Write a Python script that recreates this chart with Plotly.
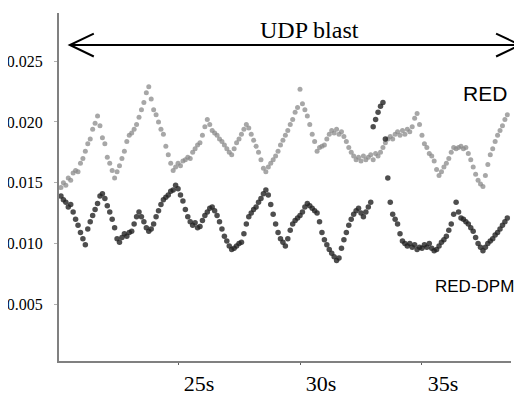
import plotly.graph_objects as go

# ---- data (seconds, queueing delay in s) ----
t_start = 20.2
t_step = 0.1

red = [
    0.0146, 0.0150, 0.0148, 0.0154, 0.0152, 0.0158, 0.0160, 0.0159, 0.0166, 0.0170,
    0.0176, 0.0182, 0.0186, 0.0194, 0.0199, 0.0205, 0.0197, 0.0187, 0.0182, 0.0171,
    0.0166, 0.0160, 0.0154, 0.0159, 0.0164, 0.0170, 0.0176, 0.0184, 0.0189, 0.0191,
    0.0194, 0.0198, 0.0204, 0.0210, 0.0216, 0.0224, 0.0229, 0.0219, 0.0210, 0.0206,
    0.0200, 0.0194, 0.0190, 0.0180, 0.0173, 0.0166, 0.0160, 0.0163, 0.0166, 0.0164,
    0.0168, 0.0169, 0.0171, 0.0170, 0.0175, 0.0178, 0.0181, 0.0183, 0.0189, 0.0196,
    0.0202, 0.0198, 0.0193, 0.0191, 0.0189, 0.0186, 0.0184, 0.0181, 0.0178, 0.0175,
    0.0173, 0.0178, 0.0183, 0.0186, 0.0190, 0.0194, 0.0198, 0.0195, 0.0190, 0.0185,
    0.0180, 0.0175, 0.0169, 0.0162, 0.0159, 0.0163, 0.0166, 0.0169, 0.0172, 0.0176,
    0.0181, 0.0185, 0.0189, 0.0193, 0.0198, 0.0202, 0.0208, 0.0212, 0.0227, 0.0215,
    0.0210, 0.0205, 0.0198, 0.0190, 0.0184, 0.0176, 0.0179, 0.0180, 0.0181, 0.0186,
    0.0190, 0.0193, 0.0191, 0.0194, 0.0190, 0.0192, 0.0188, 0.0184, 0.0179, 0.0175,
    0.0172, 0.0169, 0.0171, 0.0168, 0.0172, 0.0169, 0.0171, 0.0173, 0.0169, 0.0174,
    0.0172, 0.0175, 0.0179, 0.0183, 0.0186, 0.0188, 0.0186, 0.0190, 0.0192, 0.0189,
    0.0193, 0.0190, 0.0194, 0.0192, 0.0196, 0.0203, 0.0207, 0.0198, 0.0189, 0.0182,
    0.0179, 0.0174, 0.0172, 0.0168, 0.0161, 0.0156, 0.0159, 0.0163, 0.0166, 0.0170,
    0.0175, 0.0179, 0.0178, 0.0179, 0.0180, 0.0178, 0.0179, 0.0174, 0.0169, 0.0163,
    0.0157, 0.0152, 0.0149, 0.0147, 0.0156, 0.0165, 0.0173, 0.0178, 0.0184, 0.0189,
    0.0193, 0.0197, 0.0202, 0.0206,
]

red_dpm = [
    0.0139, 0.0136, 0.0134, 0.0130, 0.0132, 0.0126, 0.0120, 0.0115, 0.0109, 0.0104,
    0.0099, 0.0112, 0.0118, 0.0123, 0.0128, 0.0133, 0.0139, 0.0141, 0.0137, 0.0131,
    0.0126, 0.0120, 0.0113, 0.0104, 0.0101, 0.0105, 0.0108, 0.0106, 0.0109, 0.0110,
    0.0116, 0.0122, 0.0126, 0.0122, 0.0118, 0.0113, 0.0110, 0.0112, 0.0116, 0.0122,
    0.0127, 0.0132, 0.0136, 0.0138, 0.0140, 0.0143, 0.0144, 0.0148, 0.0145, 0.0140,
    0.0135, 0.0128, 0.0122, 0.0118, 0.0115, 0.0117, 0.0113, 0.0114, 0.0119, 0.0123,
    0.0126, 0.0129, 0.0130, 0.0127, 0.0123, 0.0118, 0.0112, 0.0106, 0.0102, 0.0098,
    0.0095, 0.0096, 0.0098, 0.0100, 0.0101, 0.0108, 0.0116, 0.0122, 0.0125, 0.0128,
    0.0130, 0.0134, 0.0137, 0.0141, 0.0144, 0.0140, 0.0132, 0.0124, 0.0116, 0.0109,
    0.0104, 0.0101, 0.0098, 0.0104, 0.0111, 0.0116, 0.0119, 0.0121, 0.0123, 0.0126,
    0.0130, 0.0133, 0.0131, 0.0129, 0.0127, 0.0125, 0.0118, 0.0109, 0.0103, 0.0099,
    0.0095, 0.0092, 0.0089, 0.0086, 0.0088, 0.0096, 0.0103, 0.0109, 0.0115, 0.0120,
    0.0124, 0.0127, 0.0129, 0.0125, 0.0122, 0.0126, 0.0130, 0.0134, 0.0196, 0.0202,
    0.0208, 0.0213, 0.0216, 0.0186, 0.0154, 0.0134, 0.0124, 0.0120, 0.0116, 0.0108,
    0.0102, 0.0100, 0.0098, 0.0100, 0.0097, 0.0099, 0.0095, 0.0097, 0.0096, 0.0099,
    0.0097, 0.0100, 0.0096, 0.0094, 0.0095, 0.0098, 0.0101, 0.0103, 0.0106, 0.0111,
    0.0116, 0.0124, 0.0134, 0.0126, 0.0121, 0.0120, 0.0118, 0.0116, 0.0113, 0.0110,
    0.0105, 0.0100, 0.0097, 0.0094, 0.0097, 0.0100, 0.0102, 0.0104, 0.0107, 0.0109,
    0.0112, 0.0115, 0.0118, 0.0121,
]

times = [round(t_start + t_step * i, 2) for i in range(len(red))]

x_ticks = [25, 30, 35]
x_tick_text = ["25s", "30s", "35s"]
y_ticks = [0.005, 0.010, 0.015, 0.020, 0.025]
y_tick_text = ["0.005", "0.010", "0.015", "0.020", "0.025"]

SERIF = "Liberation Serif, Times New Roman, serif"
SANS = "Liberation Sans, Arial, sans-serif"

fig = go.Figure()
fig.add_trace(go.Scatter(
    x=times, y=red, mode="markers", name="RED",
    marker=dict(size=5, color="#8a8a8a", opacity=0.75, line=dict(width=0)),
))
fig.add_trace(go.Scatter(
    x=times, y=red_dpm, mode="markers", name="RED-DPM",
    marker=dict(size=5.5, color="#222222", opacity=0.8, line=dict(width=0)),
))

# double-headed arrow for "UDP blast" (paper coordinates)
xl, xr, ya = 0.024, 1.02, 0.908
hx, hy = 0.053, 0.033
arrow_paths = [
    f"M {xl},{ya} L {xr},{ya}",
    f"M {xl + hx},{ya + hy} L {xl},{ya} L {xl + hx},{ya - hy}",
    f"M {xr - hx},{ya + hy} L {xr},{ya} L {xr - hx},{ya - hy}",
]
for p in arrow_paths:
    fig.add_shape(type="path", path=p, xref="paper", yref="paper",
                  line=dict(color="black", width=2))

fig.add_annotation(text="UDP blast", xref="paper", yref="paper", x=0.555, y=0.951,
                   xanchor="center", yanchor="middle", showarrow=False,
                   font=dict(family=SERIF, size=24, color="black"))
fig.add_annotation(text="RED", xref="paper", yref="paper", x=0.942, y=0.770,
                   xanchor="center", yanchor="middle", showarrow=False,
                   font=dict(family=SANS, size=21, color="black"))
fig.add_annotation(text="RED-DPM", xref="paper", yref="paper", x=0.92, y=0.213,
                   xanchor="center", yanchor="middle", showarrow=False,
                   font=dict(family=SANS, size=17, color="black"))

# page body adds an 8px offset, so the figure is drawn 8px smaller
fig.update_layout(
    width=514, height=388,
    margin=dict(l=51, r=11, t=5, b=35, autoexpand=False),
    paper_bgcolor="white", plot_bgcolor="white",
    showlegend=False,
    font=dict(family=SERIF, color="black"),
    xaxis=dict(
        range=[20.12, 38.65], tickvals=x_ticks, ticktext=x_tick_text,
        showline=True, linecolor="#808080", linewidth=2, showgrid=False, zeroline=False,
        ticks="outside", ticklen=2, tickcolor="#606060", tickwidth=1,
        tickfont=dict(family=SERIF, size=22, color="black"),
        ticklabelshift=21, automargin=False,
    ),
    yaxis=dict(
        range=[0.00033, 0.02897], tickvals=y_ticks, ticktext=y_tick_text,
        showline=True, linecolor="#808080", linewidth=2, showgrid=False, zeroline=False,
        ticks="outside", ticklen=3, tickcolor="#b0b0b0", tickwidth=1,
        tickfont=dict(family=SERIF, size=16, color="black"),
        ticklabelstandoff=8, automargin=False,
    ),
)

fig.write_html("out.html")
